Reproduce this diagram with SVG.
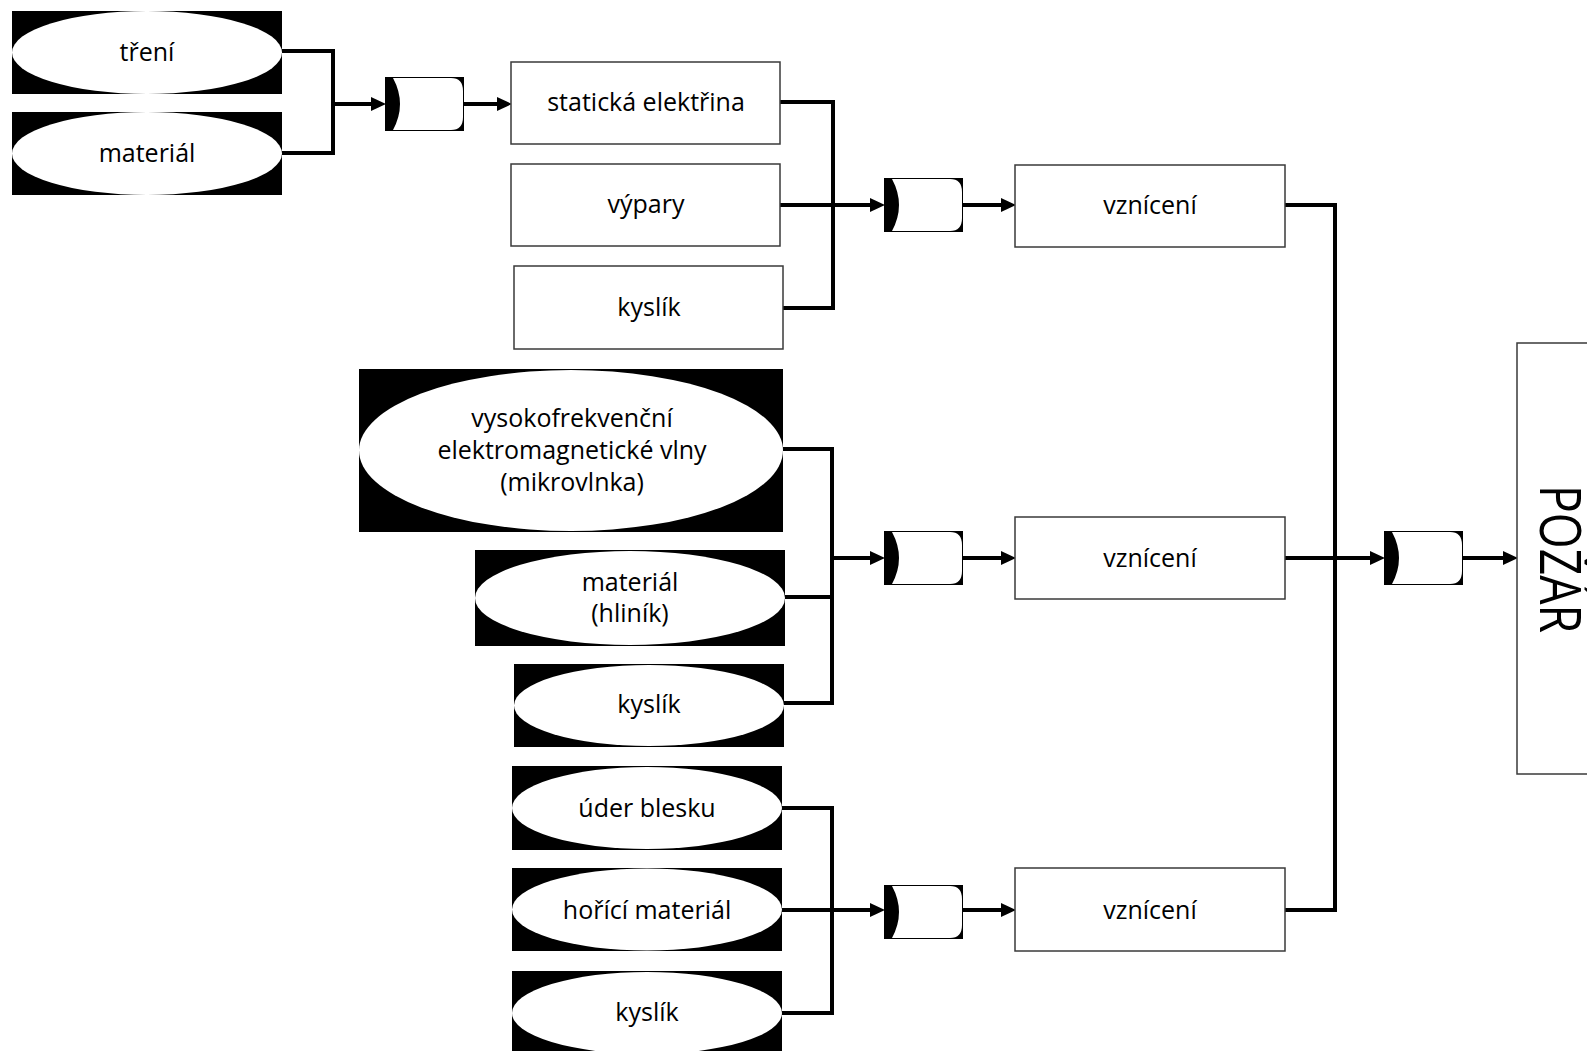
<svg xmlns="http://www.w3.org/2000/svg" xmlns:xlink="http://www.w3.org/1999/xlink" width="1587" height="1051" viewBox="0 0 1587 1051">
  <style>
    .conn { fill: none; stroke: #000; stroke-width: 4; stroke-linejoin: miter; }
    .arr { fill: none; stroke: #000; stroke-width: 4; marker-end: url(#arrow); }
    .box { fill: #fff; stroke: #3a3a3a; stroke-width: 1.5; }
    .ebg { fill: #000; }
    .ell { fill: #fff; }
    .lbl { font-family: "Open Sans", "Liberation Sans", sans-serif; font-size: 25px; text-anchor: middle; dominant-baseline: central; fill: #000; }
    .big { font-family: "Open Sans", "Liberation Sans", sans-serif; font-size: 56px; text-anchor: middle; fill: #000; }
  </style>
  <defs>
    <marker id="arrow" markerUnits="userSpaceOnUse" markerWidth="16" markerHeight="14" refX="6" refY="7" orient="auto">
      <path d="M0,0 L15,7 L0,14 z" fill="#000"/>
    </marker>
    <!-- AND gate: black frame with a white D shape, concave on the input side -->
    <g id="gate">
      <rect x="0" y="0" width="79" height="54" fill="#000"/>
      <path d="M8,1 L66,1 Q78,1 78,14 L78,40 Q78,53 66,53 L8,53 Q22,27 8,1 Z" fill="#fff"/>
    </g>
  </defs>

  <rect width="1587" height="1051" fill="#fff"/>

  <!-- connectors -->
  <g id="connectors">
    <path class="conn" d="M282,51 H333 V153 H282"/>
    <path class="arr" d="M333,104 H377"/>
    <path class="arr" d="M463,104 H503"/>

    <path class="conn" d="M780,102 H833 V308 H783"/>
    <path class="arr" d="M780,205 H876"/>
    <path class="arr" d="M963,205 H1007"/>

    <path class="conn" d="M783,449 H832 V703 H784"/>
    <path class="conn" d="M785,597 H832"/>
    <path class="arr" d="M832,558 H876"/>
    <path class="arr" d="M963,558 H1007"/>

    <path class="conn" d="M782,808 H832 V1013 H782"/>
    <path class="arr" d="M782,910 H876"/>
    <path class="arr" d="M963,910 H1007"/>

    <path class="conn" d="M1285,205 H1335 V910 H1285"/>
    <path class="arr" d="M1285,558 H1376"/>
    <path class="arr" d="M1463,558 H1509"/>
  </g>

  <!-- branch 1: static electricity -->
  <g id="treni">
    <rect class="ebg" x="12" y="11" width="270" height="83"/>
    <ellipse class="ell" cx="147" cy="52.5" rx="135" ry="41.5"/>
    <text class="lbl" x="147" y="51">tření</text>
  </g>
  <g id="material-1">
    <rect class="ebg" x="12" y="112" width="270" height="83"/>
    <ellipse class="ell" cx="147" cy="153.5" rx="135" ry="41.5"/>
    <text class="lbl" x="147" y="152">materiál</text>
  </g>
  <g id="gate-1"><use xlink:href="#gate" x="385" y="77"/></g>
  <g id="staticka">
    <rect class="box" x="511" y="62" width="269" height="82"/>
    <text class="lbl" x="646" y="101">statická elektřina</text>
  </g>
  <g id="vypary">
    <rect class="box" x="511" y="164" width="269" height="82"/>
    <text class="lbl" x="646" y="203">výpary</text>
  </g>
  <g id="kyslik-1">
    <rect class="box" x="514" y="266" width="269" height="83"/>
    <text class="lbl" x="649" y="306">kyslík</text>
  </g>
  <g id="gate-2"><use xlink:href="#gate" x="884" y="178"/></g>
  <g id="vzniceni-1">
    <rect class="box" x="1015" y="165" width="270" height="82"/>
    <text class="lbl" x="1150" y="204">vznícení</text>
  </g>

  <!-- branch 2: microwave -->
  <g id="mikrovlny">
    <rect class="ebg" x="359" y="369" width="424" height="163"/>
    <ellipse class="ell" cx="571" cy="450.5" rx="212" ry="80.5"/>
    <text class="lbl" x="572" y="417">vysokofrekvenční</text>
    <text class="lbl" x="572" y="449">elektromagnetické vlny</text>
    <text class="lbl" x="572" y="481">(mikrovlnka)</text>
  </g>
  <g id="hlinik">
    <rect class="ebg" x="475" y="550" width="310" height="96"/>
    <ellipse class="ell" cx="630" cy="598" rx="155" ry="47"/>
    <text class="lbl" x="630" y="581">materiál</text>
    <text class="lbl" x="630" y="612">(hliník)</text>
  </g>
  <g id="kyslik-2">
    <rect class="ebg" x="514" y="664" width="270" height="83"/>
    <ellipse class="ell" cx="649" cy="705.5" rx="135" ry="40.5"/>
    <text class="lbl" x="649" y="703">kyslík</text>
  </g>
  <g id="gate-3"><use xlink:href="#gate" x="884" y="531"/></g>
  <g id="vzniceni-2">
    <rect class="box" x="1015" y="517" width="270" height="82"/>
    <text class="lbl" x="1150" y="557">vznícení</text>
  </g>

  <!-- branch 3: lightning -->
  <g id="uder-blesku">
    <rect class="ebg" x="512" y="766" width="270" height="84"/>
    <ellipse class="ell" cx="647" cy="808" rx="135" ry="41"/>
    <text class="lbl" x="647" y="807">úder blesku</text>
  </g>
  <g id="horici-material">
    <rect class="ebg" x="512" y="868" width="270" height="83"/>
    <ellipse class="ell" cx="647" cy="909.5" rx="135" ry="41"/>
    <text class="lbl" x="647" y="909">hořící materiál</text>
  </g>
  <g id="kyslik-3">
    <rect class="ebg" x="512" y="971" width="270" height="84"/>
    <ellipse class="ell" cx="647" cy="1013" rx="135" ry="41"/>
    <text class="lbl" x="647" y="1011">kyslík</text>
  </g>
  <g id="gate-4"><use xlink:href="#gate" x="884" y="885"/></g>
  <g id="vzniceni-3">
    <rect class="box" x="1015" y="868" width="270" height="83"/>
    <text class="lbl" x="1150" y="909">vznícení</text>
  </g>

  <!-- top event -->
  <g id="gate-5"><use xlink:href="#gate" x="1384" y="531"/></g>
  <g id="pozar">
    <rect class="box" x="1517" y="343" width="100" height="431"/>
    <text class="big" transform="translate(1540,559) rotate(90)" x="0" y="0" textLength="148" lengthAdjust="spacingAndGlyphs">POŽÁR</text>
  </g>
</svg>
